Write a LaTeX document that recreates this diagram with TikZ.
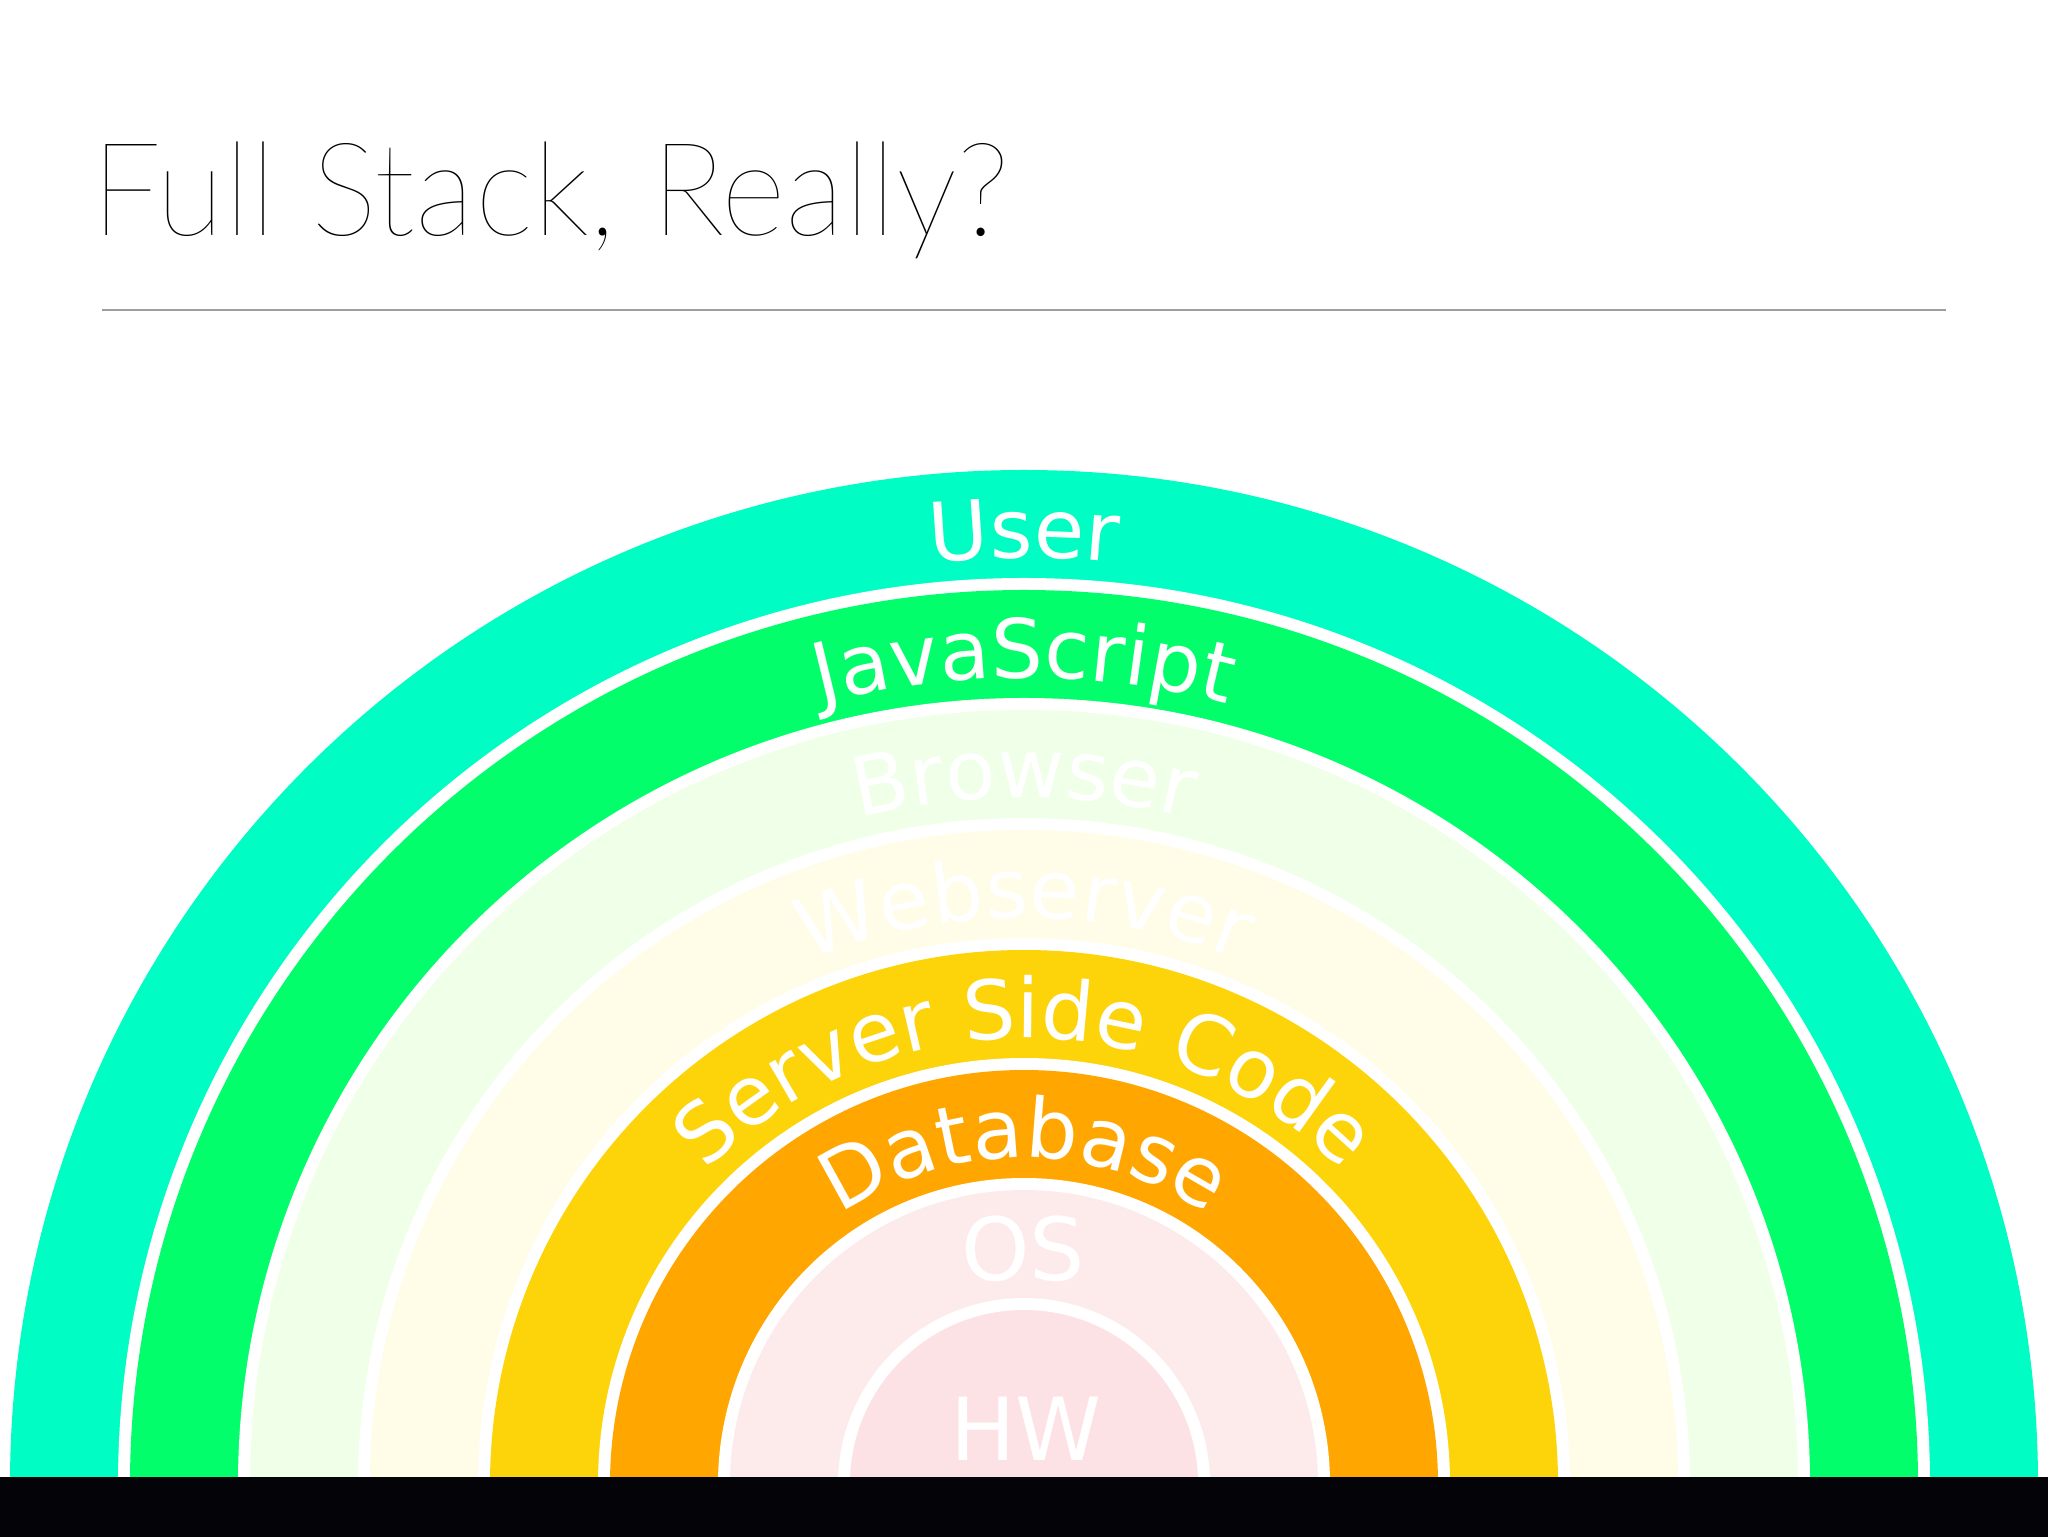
\documentclass[tikz,border=0pt]{standalone}
\usepackage{fontspec}
\usetikzlibrary{decorations.text}
\newfontfamily\ringfont{DejaVu Sans}
\newcommand\titlesize{65pt}
\IfFontExistsTF{Lato Hairline}{\newfontfamily\titlefont{Lato Hairline}}{%
 \IfFontExistsTF{Fira Sans Thin}{\newfontfamily\titlefont{Fira Sans Thin}\renewcommand\titlesize{67.5pt}}{%
  \IfFontExistsTF{Lato Thin}{\newfontfamily\titlefont{Lato Thin}}{%
   \IfFontExistsTF{Fira Sans ExtraLight}{\newfontfamily\titlefont{Fira Sans ExtraLight}\renewcommand\titlesize{67.5pt}}{%
    \IfFontExistsTF{Lato Light}{\newfontfamily\titlefont{Lato Light}}{%
     \newfontfamily\titlefont{TeX Gyre Heros}}}}}}
\newcommand\lblfont{\ringfont\fontsize{41pt}{46pt}\selectfont}
\newcommand\corefont{\ringfont\fontsize{43.5pt}{48pt}\selectfont}
\definecolor{cUser}{HTML}{00FDC3}
\definecolor{cJS}{HTML}{02FE6B}
\definecolor{cBrowser}{HTML}{F0FFE7}
\definecolor{cWeb}{HTML}{FFFDE7}
\definecolor{cServer}{HTML}{FDD30A}
\definecolor{cDB}{HTML}{FFA700}
\definecolor{cOS}{HTML}{FDEBEB}
\definecolor{cHW}{HTML}{FCE2E4}
\definecolor{lineGray}{HTML}{9E9E9E}
\definecolor{barBlack}{HTML}{040307}
\tikzset{
  ringlabel/.style={white, font=\corefont, inner sep=0pt, anchor=base},
}
\begin{document}
\begin{tikzpicture}[x=0.5pt,y=0.5pt]
\useasboundingbox (0,0) rectangle (2048,1536);
\fill[white] (0,0) rectangle (2048,1536);
\begin{scope}
\clip (0,0) rectangle (2048,1536);
\coordinate (C) at (1024,52);
\fill[cUser] (C) circle[radius=507pt];
\foreach \wr/\cr/\col in {453/447/cJS, 393/387/cBrowser, 333/327/cWeb, 273/267/cServer, 213/207/cDB, 153/147/cOS, 93/87/cHW}{
  \fill[white] (C) circle[radius=\wr pt];
  \fill[\col] (C) circle[radius=\cr pt];
}
% curved labels
\foreach \r/\txt in {463/User, 403/JavaScript, 343/Browser, 283/Webserver, 223/Server Side Code, 163/Database}{
  \path[white, decorate, decoration={text along path, text={|\lblfont\color{white}|\txt}, text align=center}]
    ([shift={(180:\r pt)}]C) arc[start angle=180, end angle=0, radius=\r pt];
}
\node[ringlabel] (os) at (1023,256) {OS};
\node[ringlabel] (hw) at (1026,76) {HW};
\end{scope}
\fill[barBlack] (-10,-20) rectangle (2058,59);
% title
\node[anchor=base west, inner sep=0pt, xscale=0.96, font=\titlefont\fontsize{\titlesize}{70pt}\selectfont] (title) at (91,1300) {Full Stack, Really?};
\coordinate (ruleL) at (102,1226);
\coordinate (ruleR) at (1946,1226);
\draw[line width=1pt, lineGray] (ruleL) -- (ruleR);
\end{tikzpicture}
\end{document}
